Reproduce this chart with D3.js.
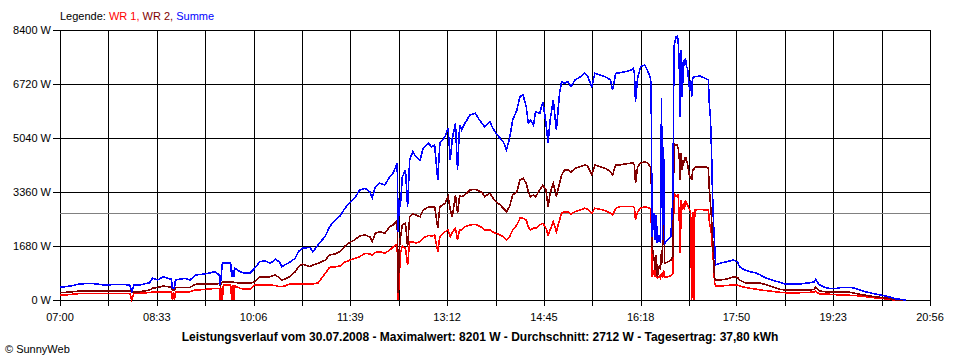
<!DOCTYPE html>
<html><head><meta charset="utf-8">
<script src="https://cdn.jsdelivr.net/npm/d3@7"></script>
<style>
html,body{margin:0;padding:0;background:#fff;}
svg{display:block;}
text{font-family:"Liberation Sans",Arial,sans-serif;}
</style></head>
<body>
<svg id="chart" width="960" height="360"></svg>
<script>
const times = ["07:00","07:10","07:19","07:29","07:43","07:58","08:07","08:09","08:11","08:17","08:26","08:29","08:34","08:39","08:46","08:47","08:48","08:49","08:50","08:51","09:00","09:05","09:10","09:19","09:29","09:33","09:34","09:35","09:36","09:37","09:44","09:45","09:46","09:47","09:48","09:53","09:58","10:03","10:07","10:12","10:17","10:22","10:27","10:31","10:33","10:36","10:41","10:46","10:49","10:53","11:00","11:03","11:08","11:15","11:19","11:24","11:29","11:34","11:39","11:43","11:48","11:53","11:58","12:00","12:03","12:07","12:12","12:17","12:20","12:23","12:24","12:25","12:26","12:27","12:29","12:32","12:34","12:36","12:39","12:42","12:46","12:49","12:54","12:57","13:00","13:03","13:05","13:10","13:13","13:15","13:17","13:20","13:22","13:24","13:26","13:29","13:34","13:39","13:42","13:46","13:48","13:53","13:56","13:59","14:03","14:06","14:09","14:12","14:15","14:19","14:22","14:25","14:28","14:30","14:32","14:35","14:37","14:41","14:44","14:47","14:49","14:51","14:54","14:57","15:00","15:02","15:05","15:08","15:11","15:15","15:20","15:24","15:27","15:31","15:34","15:39","15:44","15:49","15:51","15:54","15:58","16:03","16:08","16:11","16:12","16:13","16:15","16:18","16:22","16:25","16:27","16:28","16:29","16:31","16:32","16:33","16:34","16:36","16:37","16:38","16:39","16:40","16:41","16:44","16:47","16:49","16:50","16:52","16:53","16:54","16:55","16:56","16:57","16:58","16:59","17:00","17:01","17:02","17:03","17:05","17:06","17:07","17:08","17:09","17:10","17:15","17:20","17:23","17:24","17:25","17:26","17:27","17:28","17:29","17:30","17:34","17:41","17:47","17:51","17:53","17:58","18:03","18:08","18:13","18:17","18:22","18:27","18:32","18:37","18:41","18:51","19:01","19:05","19:06","19:08","19:10","19:15","19:20","19:25","19:30","19:39","19:44","19:49","19:54","19:58","20:03","20:08","20:13","20:18","20:20","20:24","20:27","20:33"];

const summe = [395,436,498,520,467,488,467,258,467,467,538,675,622,725,653,653,364,373,373,622,675,622,778,809,880,778,467,778,1142,1142,1142,725,933,725,986,880,831,849,986,1192,1223,1142,1266,1182,1036,1089,1182,1297,1503,1608,1640,1503,1711,1991,2280,2467,2613,2862,3049,3164,3422,3475,3360,3173,3525,3631,3578,3836,3942,4169,4253,2125,3111,2903,3836,4044,2903,4356,4614,4458,4356,4720,4875,4769,4822,3733,4875,5081,5342,4356,5031,5497,4044,5444,5289,5497,5756,5808,5653,5476,5392,5547,5342,5186,5031,4925,4667,5031,5600,5911,6325,6378,6014,5497,5600,5444,5858,5808,6169,5497,4875,5600,6222,5289,6431,6792,6742,6792,6636,6844,6947,7053,6969,6636,7053,7000,6947,6844,6533,7053,7071,7103,7140,7208,7053,6169,6897,7258,7311,7103,6947,6742,1969,2697,1867,2644,1764,2022,1764,6275,1867,4769,1764,1867,1960,3267,7880,8191,8201,8089,7364,5703,7778,6325,7467,7364,7520,7258,7208,6533,6844,6325,6897,6940,6947,6969,6897,6844,6067,5703,4720,3320,2386,1764,1089,1142,1192,1244,1182,1036,933,880,849,778,706,644,591,551,498,498,498,538,569,644,538,467,395,352,352,383,395,364,311,258,227,187,156,124,84,62,31,22,0];

const wr2 = [227,249,280,289,289,289,289,249,258,258,311,364,389,436,404,404,311,311,311,389,395,395,488,498,498,513,436,520,560,569,569,560,560,544,544,529,520,520,569,725,716,725,778,684,622,653,725,880,1027,1120,1036,1089,1142,1244,1400,1431,1509,1680,1804,1867,1991,2022,1960,1814,2075,2125,2075,2280,2333,2427,2489,218,1556,1920,2333,2386,1658,2592,2676,2644,2592,2800,2893,2893,2903,2231,2903,3008,3214,2800,2592,3267,2697,3236,3214,3267,3422,3444,3407,3329,3214,3320,3173,3058,2956,2853,2747,2903,3267,3369,3733,3786,3631,3369,3214,3267,3214,3422,3578,3422,2903,3320,3631,3214,3631,3889,4044,4044,3982,4097,4147,4200,4169,3889,4200,4147,4097,3992,3889,4200,4200,4231,4253,4253,4200,3631,4147,4262,4303,4253,4147,4107,1658,1244,933,1400,725,1089,933,1556,1142,4667,1142,1182,1244,1369,4875,4822,4822,4729,4458,3733,4573,4044,4356,4253,4458,4356,4253,3836,3836,3733,4044,4044,4128,4138,4147,4097,3422,3018,2592,1969,1347,675,622,622,653,725,700,622,538,520,520,520,488,436,383,333,311,311,311,311,333,395,333,280,258,240,240,240,240,208,177,149,124,103,84,62,40,31,0,0,0];

const wr1 = [146,171,202,208,208,208,208,0,208,208,233,249,258,258,258,258,0,258,0,258,258,258,311,327,364,364,0,364,0,467,467,0,467,0,436,364,333,333,467,467,467,467,451,414,414,436,498,498,498,498,498,498,529,831,1017,1027,1058,1182,1244,1291,1347,1453,1431,1400,1478,1503,1453,1556,1649,1711,1711,0,622,1453,1680,1608,1089,1814,1804,1773,1814,1929,2007,1991,2022,1503,1969,2125,2178,1969,2116,2231,1867,2178,2178,2280,2333,2355,2318,2240,2178,2178,2116,2075,2022,1969,1867,1969,2178,2333,2542,2542,2489,2280,2178,2231,2231,2333,2386,2231,2022,2178,2436,2125,2489,2697,2747,2738,2676,2747,2800,2853,2831,2697,2853,2822,2778,2697,2644,2853,2903,2903,2903,2903,2862,2489,2747,2862,2903,2878,2853,2800,725,933,725,996,684,747,675,840,675,933,716,725,747,840,3320,3214,3236,3267,2592,1453,3111,2800,3008,2800,3111,3008,2956,2800,2747,0,2747,0,2800,2822,2800,2800,2436,2240,2075,1556,1142,520,436,436,451,467,467,436,395,364,342,311,296,280,258,240,227,227,227,240,258,280,227,187,180,177,165,156,146,140,124,103,84,68,53,37,22,0,0,0,0];

const avgValue = 2712;
const yTicks = [0,1680,3360,5040,6720,8400];
const xTickLabels = ["07:00","08:33","10:06","11:39","13:12","14:45","16:18","17:50","19:23","20:56"];
const legendParts = [["Legende: ","#000"],["WR 1, ","#ff0000"],["WR 2, ","#800000"],["Summe","#0000ff"]];
const titleText = "Leistungsverlauf vom 30.07.2008 - Maximalwert: 8201 W - Durchschnitt: 2712 W - Tagesertrag: 37,80 kWh";

const toMin = s => { const [h,m] = s.split(":").map(Number); return h*60+m; };
const tMin = times.map(toMin);
const labelMin = xTickLabels.map(toMin);
const gridMin = [];
labelMin.forEach((v,i) => { gridMin.push(v); if (i < labelMin.length-1) gridMin.push((v + labelMin[i+1]) / 2); });

const svg = d3.select("#chart");
const L = 60, R = 930, T = 30, B = 300;
const x = d3.scaleLinear().domain([labelMin[0], labelMin[labelMin.length-1]]).range([L, R]);
const y = d3.scaleLinear().domain([0, 8400]).range([B, T]);

svg.append("g").selectAll("line").data(yTicks).join("line")
  .attr("x1", L-7).attr("x2", R).attr("y1", d=>Math.round(y(d))+0.5).attr("y2", d=>Math.round(y(d))+0.5)
  .attr("stroke","#000").attr("stroke-width",1);
svg.append("g").selectAll("line").data(gridMin).join("line")
  .attr("x1", d=>Math.round(x(d))+0.5).attr("x2", d=>Math.round(x(d))+0.5)
  .attr("y1", T).attr("y2", B+6)
  .attr("stroke","#000").attr("stroke-width",1);
svg.append("line").attr("x1",L).attr("x2",R)
  .attr("y1",Math.round(y(avgValue))+0.5).attr("y2",Math.round(y(avgValue))+0.5)
  .attr("stroke","#808080").attr("stroke-width",1);

svg.append("g").selectAll("text").data(yTicks).join("text")
  .attr("x", 51).attr("y", d=>y(d)+4).attr("text-anchor","end")
  .attr("font-size","11px").attr("fill","#000").text(d=>d+" W");
svg.append("g").selectAll("text").data(xTickLabels).join("text")
  .attr("x", (d,i)=>x(labelMin[i])).attr("y", 321).attr("text-anchor","middle")
  .attr("font-size","11px").attr("fill","#000").text(d=>d);

const line = vals => d3.line().x((d,i)=>x(tMin[i])).y(d=>y(d))(vals);
[[wr1,"#ff0000"],[wr2,"#800000"],[summe,"#0000ff"]].forEach(([vals,col]) => {
  svg.append("path").attr("d", line(vals)).attr("fill","none")
    .attr("stroke",col).attr("stroke-width",1.6).attr("shape-rendering","crispEdges");
});

const lg = svg.append("text").attr("x",60).attr("y",20).attr("font-size","11px");
legendParts.forEach(([t,c]) => lg.append("tspan").attr("fill",c).text(t));

svg.append("text").attr("x",480).attr("y",341).attr("text-anchor","middle")
  .attr("font-size","12px").attr("font-weight","bold").attr("fill","#000").text(titleText);
svg.append("text").attr("x",5).attr("y",353).attr("font-size","11px").attr("fill","#000").text("\u00A9 SunnyWeb");
</script>
</body></html>
